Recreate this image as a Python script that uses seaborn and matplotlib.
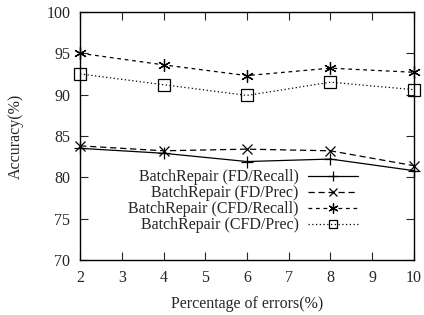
import pandas as pd
import seaborn as sns
import matplotlib
matplotlib.use("Agg")
import matplotlib.pyplot as plt

# data
errors = [2, 4, 6, 8, 10]
fd_recall = [83.5, 82.9, 81.9, 82.2, 80.8]
fd_prec = [83.8, 83.2, 83.4, 83.2, 81.4]
cfd_recall = [95.0, 93.6, 92.3, 93.2, 92.7]
cfd_prec = [92.5, 91.2, 89.9, 91.5, 90.6]
labels = ["BatchRepair (FD/Recall)", "BatchRepair (FD/Prec)",
          "BatchRepair (CFD/Recall)", "BatchRepair (CFD/Prec)"]

df = pd.DataFrame({
    "errors": errors * 4,
    "acc": fd_recall + fd_prec + cfd_recall + cfd_prec,
    "series": [l for l in labels for _ in errors],
})

sns.set_style("ticks")
plt.rcParams["font.family"] = ["Liberation Serif", "DejaVu Serif"]
plt.rcParams["font.size"] = 11.5

fig = plt.figure(figsize=(4.24, 3.15), dpi=100)
ax = fig.add_axes([0.189, 0.175, 0.787, 0.787])

styles = {
    labels[0]: dict(marker="+", linestyle="-", markersize=9),
    labels[1]: dict(marker="x", linestyle=(0, (5, 3)), markersize=7),
    labels[2]: dict(marker=(6, 2, 0), linestyle=(0, (3, 3)), markersize=9),
    labels[3]: dict(marker="s", linestyle=(0, (1, 2)), markersize=8, markerfacecolor="none"),
}
for lab in labels:
    sub = df[df["series"] == lab]
    sns.lineplot(data=sub, x="errors", y="acc", ax=ax, color="black", lw=0.9,
                 label=lab, markeredgewidth=0.9, markeredgecolor="black",
                 clip_on=False, zorder=3, **styles[lab])

ax.set_xlim(2, 10)
ax.set_ylim(70, 100)
ax.set_xticks(range(2, 11))
ax.set_yticks(range(70, 101, 5))
ax.tick_params(direction="in", top=True, right=True, length=5.5, width=0.8, labelsize=11.5)
ax.tick_params(axis="y", pad=7)
ax.tick_params(axis="x", pad=7.5)
for s in ax.spines.values():
    s.set_linewidth(1.0)
    s.set_color("black")
ax.set_xlabel("Percentage of errors(%)", fontsize=11.5, labelpad=7)
ax.set_ylabel("Accuracy(%)", fontsize=11.5, labelpad=16)

leg = ax.legend(loc="upper right", bbox_to_anchor=(0.832, 0.365), frameon=False, markerfirst=False,
                handlelength=3.1, fontsize=11.5, labelspacing=0.0, borderaxespad=0,
                borderpad=0, handletextpad=0.6, markerscale=0.8)
# right-align legend labels like gnuplot
for t in leg.get_texts():
    t.set_ha("right")

fig.savefig("out.png", dpi=100)
